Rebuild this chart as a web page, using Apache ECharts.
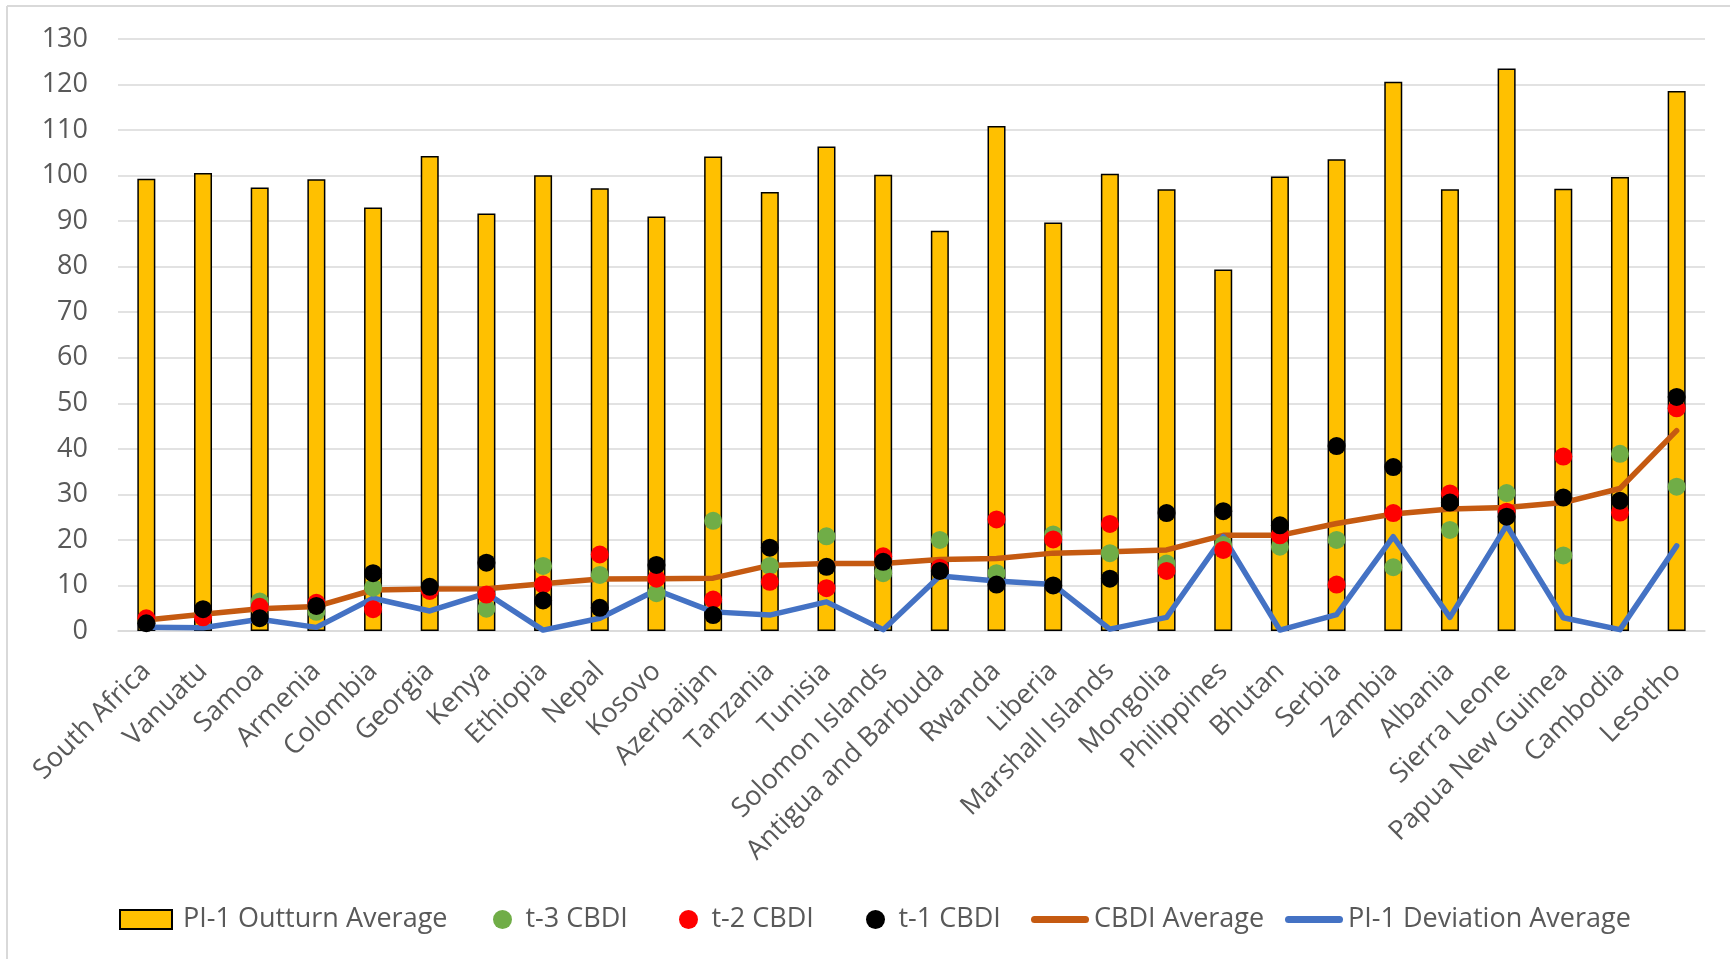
<!DOCTYPE html>
<html>
<head>
<meta charset="utf-8">
<script src="https://cdn.jsdelivr.net/npm/echarts@6/dist/echarts.min.js"></script>
<style>
html,body{margin:0;padding:0;background:#fff;}
#chart{width:1730px;height:959px;}
</style>
</head>
<body>
<div id="chart"></div>
<script>
const categories = ["South Africa","Vanuatu","Samoa","Armenia","Colombia","Georgia","Kenya","Ethiopia","Nepal","Kosovo","Azerbaijan","Tanzania","Tunisia","Solomon Islands","Antigua and Barbuda","Rwanda","Liberia","Marshall Islands","Mongolia","Philippines","Bhutan","Serbia","Zambia","Albania","Sierra Leone","Papua New Guinea","Cambodia","Lesotho"];
const outturnAvg = [99.3,100.6,97.4,99.2,93.0,104.3,91.7,100.1,97.2,91.0,104.2,96.4,106.4,100.2,87.9,110.9,89.7,100.4,97.0,79.4,99.8,103.6,120.6,97.0,123.5,97.1,99.7,118.6];
const t3CBDI = [2.4,3.3,6.5,4.2,9.5,9.1,4.9,14.3,12.3,8.3,24.2,14.3,20.8,12.7,20.0,12.7,21.2,17.1,14.8,18.9,18.5,20.0,14.0,22.2,30.3,16.6,38.9,31.7];
const t2CBDI = [2.8,3.0,5.3,6.2,4.8,8.8,8.0,10.2,16.8,11.5,6.9,10.8,9.4,16.4,13.9,24.5,20.1,23.5,13.2,17.8,21.0,10.2,25.9,30.2,26.2,38.3,26.0,48.9];
const t1CBDI = [1.7,4.8,2.8,5.5,12.7,9.7,15.0,6.7,5.1,14.5,3.5,18.3,14.1,15.2,13.2,10.2,10.0,11.5,25.9,26.3,23.2,40.6,36.0,28.2,25.1,29.3,28.6,51.4];
const cbdiAvg = [2.4,3.7,4.9,5.4,9.0,9.2,9.3,10.4,11.4,11.5,11.6,14.4,14.8,14.8,15.7,15.9,17.1,17.4,17.8,21.0,21.0,23.6,25.7,26.8,27.1,28.2,31.3,44.0];
const deviationAvg = [0.8,0.7,2.6,0.8,7.2,4.4,8.3,0.2,2.8,9.0,4.2,3.5,6.4,0.3,12.1,11.0,10.2,0.4,3.0,20.7,0.2,3.6,20.7,3.0,23.2,2.9,0.3,18.7];
const yTicks = {min: 0, max: 130, interval: 10};
const seriesNames = ['PI-1 Outturn Average', 't-3 CBDI', 't-2 CBDI', 't-1 CBDI', 'CBDI Average', 'PI-1 Deviation Average'];

const FONT = '"Open Sans", "Noto Sans", sans-serif';
const TXT = '#595959';
const GRID = '#d9d9d9';
const LINE_ICON = 'path://M3.5,0 L54.5,0 A3.5,3.5 0 0 1 54.5,7 L3.5,7 A3.5,3.5 0 0 1 3.5,0 Z';

function legendFor(name, left, width, icon, extraText) {
  return {
    left: left,
    top: 901,
    itemWidth: width,
    itemHeight: 19,
    textStyle: Object.assign({fontSize: 27, color: TXT, fontFamily: FONT}, extraText || {}),
    data: [{name: name, icon: icon}]
  };
}

const chart = echarts.init(document.getElementById('chart'), null, {renderer: 'canvas'});
chart.setOption({
  animation: false,
  backgroundColor: '#ffffff',
  textStyle: {fontFamily: FONT},
  graphic: [
    {type: 'line', shape: {x1: 7, y1: 6, x2: 1730, y2: 6}, style: {stroke: GRID, lineWidth: 2}, silent: true},
    {type: 'line', shape: {x1: 7, y1: 6, x2: 7, y2: 959}, style: {stroke: GRID, lineWidth: 2}, silent: true}
  ],
  grid: {left: 118, right: 25, top: 39, bottom: 328, containLabel: false},
  legend: [
    legendFor(seriesNames[0], 114, 52, 'rect', {padding: [0, 0, 0, 6]}),
    legendFor(seriesNames[1], 488, 36, 'circle'),
    legendFor(seriesNames[2], 674, 36, 'circle'),
    legendFor(seriesNames[3], 861, 36, 'circle'),
    legendFor(seriesNames[4], 1026, 58, LINE_ICON),
    legendFor(seriesNames[5], 1280, 58, LINE_ICON)
  ],
  xAxis: {
    type: 'category',
    data: categories,
    axisTick: {show: false},
    axisLine: {show: true, lineStyle: {color: GRID, width: 1.5}},
    axisLabel: {interval: 0, rotate: 45, fontSize: 27, color: TXT, margin: 36, fontFamily: FONT}
  },
  yAxis: {
    type: 'value',
    min: yTicks.min,
    max: yTicks.max,
    interval: yTicks.interval,
    axisLine: {show: false},
    axisTick: {show: false},
    splitLine: {lineStyle: {color: GRID, width: 1.5}},
    axisLabel: {fontSize: 27, color: TXT, margin: 30, fontFamily: FONT}
  },
  series: [
    {
      name: seriesNames[0], type: 'bar', data: outturnAvg, barWidth: 18, z: 2,
      itemStyle: {color: '#FFC000', borderColor: '#000000', borderWidth: 1.5}
    },
    {
      name: seriesNames[1], type: 'scatter', data: t3CBDI, symbol: 'circle', symbolSize: 18, z: 5,
      itemStyle: {color: '#70AD47', opacity: 1}
    },
    {
      name: seriesNames[2], type: 'scatter', data: t2CBDI, symbol: 'circle', symbolSize: 18, z: 6,
      itemStyle: {color: '#FF0000', opacity: 1}
    },
    {
      name: seriesNames[3], type: 'scatter', data: t1CBDI, symbol: 'circle', symbolSize: 18, z: 7,
      itemStyle: {color: '#000000', opacity: 1}
    },
    {
      name: seriesNames[4], type: 'line', data: cbdiAvg, symbol: 'none', z: 3,
      itemStyle: {color: '#C55A11'},
      lineStyle: {color: '#C55A11', width: 5.5, cap: 'round', join: 'round'}
    },
    {
      name: seriesNames[5], type: 'line', data: deviationAvg, symbol: 'none', z: 4,
      itemStyle: {color: '#4472C4'},
      lineStyle: {color: '#4472C4', width: 5.5, cap: 'round', join: 'round'}
    }
  ]
});
</script>
</body>
</html>
